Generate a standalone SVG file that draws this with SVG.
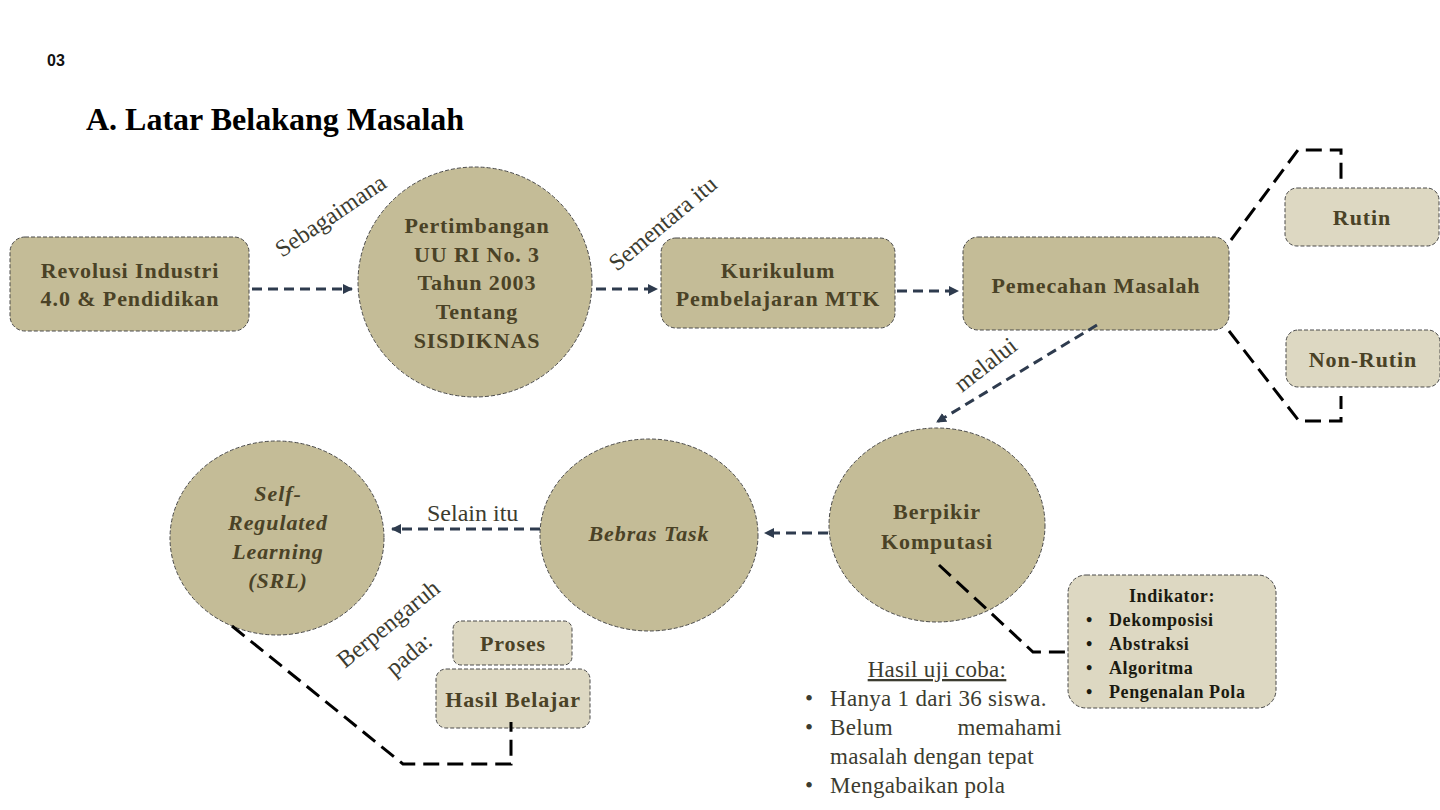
<svg xmlns="http://www.w3.org/2000/svg" width="1440" height="810" viewBox="0 0 1440 810">
<defs>
<marker id="arr" markerWidth="10" markerHeight="10" refX="9" refY="5" orient="auto" markerUnits="userSpaceOnUse">
<path d="M0,0 L10,5 L0,10 Z" fill="#2e3b4e"/>
</marker>
<style>
.n{fill:#c4bc97;stroke:#4a4a4a;stroke-width:1;stroke-dasharray:4 2}
.l{fill:#ddd8c2;stroke:#4a4a4a;stroke-width:1;stroke-dasharray:4 2}
.t{font-family:"Liberation Serif",serif;font-weight:bold;font-size:22px;letter-spacing:0.9px;fill:#4a4226;text-anchor:middle}
.ti{font-style:italic}
.lab{font-family:"Liberation Serif",serif;font-size:24px;fill:#3c3c30}
.c{fill:none;stroke:#2e3b4e;stroke-width:3;stroke-dasharray:10 6}
.k{fill:none;stroke:#000;stroke-width:3;stroke-dasharray:16 8}
.ind{font-family:"Liberation Serif",serif;font-weight:bold;font-size:18px;letter-spacing:0.6px;fill:#1a1a10}
.h{font-family:"Liberation Serif",serif;font-size:23px;letter-spacing:0.3px;fill:#3c3c30}
.ttl{font-family:"Liberation Serif",serif;font-weight:bold;font-size:32px;fill:#000}
.num{font-family:"Liberation Sans",Arial,sans-serif;font-weight:bold;font-size:16px;fill:#111}
</style>
</defs>
<rect width="1440" height="810" fill="#fff"/>
<text class="num" x="47" y="66">03</text>
<text class="ttl" x="86" y="130">A. Latar Belakang Masalah</text>

<g id="labels">
<text class="lab" font-size="24" transform="translate(282,258) rotate(-34)">Sebagaimana</text>
<text class="lab" font-size="25" transform="translate(617,272) rotate(-40)">Sementara itu</text>
<text class="lab" font-size="25" transform="translate(962,393) rotate(-38)">melalui</text>
<text class="lab" font-size="22" x="427" y="521">Selain itu</text>
<text class="lab" font-size="24" transform="translate(345,669) rotate(-39)">Berpengaruh</text>
<text class="lab" font-size="22" transform="translate(394,677) rotate(-40)">pada:</text>
</g>

<g id="revolusi">
<rect class="n" x="10" y="237" width="239" height="94" rx="15"/>
<text class="t" x="130" y="278">Revolusi Industri</text>
<text class="t" x="130" y="306">4.0 &amp; Pendidikan</text>
</g>
<g id="pertimbangan">
<ellipse class="n" cx="475" cy="282" rx="117" ry="115"/>
<text class="t" x="477" y="233">Pertimbangan</text>
<text class="t" x="477" y="262">UU RI No. 3</text>
<text class="t" x="477" y="290">Tahun 2003</text>
<text class="t" x="477" y="319">Tentang</text>
<text class="t" x="477" y="348">SISDIKNAS</text>
</g>
<g id="kurikulum">
<rect class="n" x="661" y="238" width="234" height="90" rx="15"/>
<text class="t" x="778" y="278">Kurikulum</text>
<text class="t" x="778" y="306">Pembelajaran MTK</text>
</g>
<g id="pemecahan">
<rect class="n" x="963" y="237" width="266" height="93" rx="15"/>
<text class="t" x="1096" y="293">Pemecahan Masalah</text>
</g>
<g id="rutin">
<rect class="l" x="1285" y="188" width="154" height="58" rx="12"/>
<text class="t" x="1362" y="225">Rutin</text>
</g>
<g id="nonrutin">
<rect class="l" x="1286" y="330" width="154" height="57" rx="12"/>
<text class="t" x="1363" y="367">Non-Rutin</text>
</g>
<g id="berpikir">
<ellipse class="n" cx="937" cy="525" rx="108" ry="97"/>
<text class="t" x="937" y="519">Berpikir</text>
<text class="t" x="937" y="549">Komputasi</text>
</g>
<g id="bebras">
<ellipse class="n" cx="649" cy="535" rx="109" ry="96"/>
<text class="t ti" x="649" y="541">Bebras Task</text>
</g>
<g id="srl">
<ellipse class="n" cx="277" cy="538" rx="107" ry="97"/>
<text class="t ti" x="278" y="501">Self-</text>
<text class="t ti" x="278" y="530">Regulated</text>
<text class="t ti" x="278" y="559">Learning</text>
<text class="t ti" x="278" y="588">(SRL)</text>
</g>
<g id="proses">
<rect class="l" x="453" y="621" width="119" height="44" rx="8"/>
<text class="t" x="513" y="651">Proses</text>
</g>
<g id="hasilbelajar">
<rect class="l" x="436" y="669" width="154" height="59" rx="10"/>
<text class="t" x="513" y="707">Hasil Belajar</text>
</g>
<g id="indikator">
<rect class="l" x="1068" y="575" width="208" height="133" rx="18"/>
<text class="ind" x="1172" y="602" text-anchor="middle">Indikator:</text>
<text class="ind" x="1086" y="626">•</text><text class="ind" x="1109" y="626">Dekomposisi</text>
<text class="ind" x="1086" y="650">•</text><text class="ind" x="1109" y="650">Abstraksi</text>
<text class="ind" x="1086" y="674">•</text><text class="ind" x="1109" y="674">Algoritma</text>
<text class="ind" x="1086" y="698">•</text><text class="ind" x="1109" y="698">Pengenalan Pola</text>
</g>
<g id="hasiluji">
<text class="h" x="937" y="677" text-anchor="middle" text-decoration="underline">Hasil uji coba:</text>
<text class="h" x="805" y="706">•</text><text class="h" x="830" y="706">Hanya 1 dari 36 siswa.</text>
<text class="h" x="805" y="735">•</text><text class="h" x="830" y="735">Belum</text><text class="h" x="1062" y="735" text-anchor="end">memahami</text>
<text class="h" x="830" y="764">masalah dengan tepat</text>
<text class="h" x="805" y="793">•</text><text class="h" x="830" y="793">Mengabaikan pola</text>
</g>

<g id="connectors">
<path class="c" d="M252,289 H352" marker-end="url(#arr)"/>
<path class="c" d="M596,289 H657" marker-end="url(#arr)"/>
<path class="c" d="M897,291 H958" marker-end="url(#arr)"/>
<path class="c" d="M1097,325 L937,422" marker-end="url(#arr)"/>
<path class="c" d="M828,533 H765" marker-end="url(#arr)"/>
<path class="c" d="M540,529 H392" marker-end="url(#arr)"/>
<path class="k" d="M1231,240 L1298,150 H1341 V180"/>
<path class="k" d="M1229,331 L1299,421 H1341 V396"/>
<path class="k" d="M939,565 L1033,652 H1068"/>
<path class="k" d="M232,626 L403,764 H511 V722"/>
</g>
</svg>
